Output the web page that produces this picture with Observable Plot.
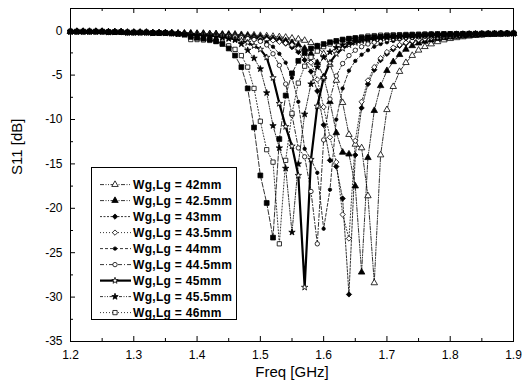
<!DOCTYPE html>
<html><head><meta charset="utf-8">
<script src="https://cdn.jsdelivr.net/npm/d3@7"></script>
<script src="https://cdn.jsdelivr.net/npm/@observablehq/plot@0.6"></script>
<style>
body{margin:0;background:#fff;}
#wrap{position:relative;width:526px;height:389px;font-family:"Liberation Sans",Arial,sans-serif;}
#legend{position:absolute;left:91px;top:167px;width:146px;height:153px;border:1px solid #000;background:#fff;box-sizing:border-box;}
</style></head><body><div id="wrap"></div>
<script>
// ---------- data ----------
const freq = [1.20,1.21,1.22,1.23,1.24,1.25,1.26,1.27,1.28,1.29,1.30,1.31,1.32,1.33,1.34,1.35,
  1.36,1.37,1.38,1.39,1.40,1.41,1.42,1.43,1.44,1.45,1.46,1.47,1.48,1.49,
  1.50,1.51,1.52,1.53,1.54,1.55,1.56,1.57,1.58,1.59,
  1.60,1.61,1.62,1.63,1.64,1.65,1.66,1.67,1.68,1.69,
  1.70,1.71,1.72,1.73,1.74,1.75,1.76,1.77,1.78,1.79,
  1.80,1.81,1.82,1.83,1.84,1.85,1.86,1.87,1.88,1.89,1.90];

const seriesNames = ["Wg,Lg = 42mm","Wg,Lg = 42.5mm","Wg,Lg = 43mm","Wg,Lg = 43.5mm","Wg,Lg = 44mm",
  "Wg,Lg = 44.5mm","Wg,Lg = 45mm","Wg,Lg = 45.5mm","Wg,Lg = 46mm","Wg,Lg = 46.5mm"];

const s42 = [-0.1,-0.1,-0.1,-0.1,-0.1,-0.1,-0.15,-0.15,-0.15,-0.2,-0.2,-0.2,-0.2,-0.25,-0.25,-0.25,
  -0.25,-0.3,-0.3,-0.3,-0.3,-0.3,-0.35,-0.35,-0.4,-0.4,-0.4,-0.45,-0.5,-0.5,
  -0.55,-0.6,-0.65,-0.7,-0.75,-0.85,-0.95,-1.1,-1.35,-1.8,
  -2.6,-3.8,-5.6,-8.1,-11.7,-12.8,-13.2,-18.6,-28.4,-14.0,
  -8.9,-6.3,-4.6,-3.6,-2.8,-2.2,-1.8,-1.5,-1.25,-1.05,
  -0.9,-0.8,-0.7,-0.62,-0.55,-0.5,-0.45,-0.4,-0.38,-0.35,-0.32];
const s42_5 = [-0.1,-0.1,-0.1,-0.1,-0.1,-0.1,-0.15,-0.15,-0.15,-0.2,-0.2,-0.2,-0.2,-0.25,-0.25,-0.25,
  -0.25,-0.3,-0.3,-0.3,-0.35,-0.35,-0.4,-0.4,-0.45,-0.45,-0.5,-0.55,-0.6,-0.65,
  -0.7,-0.8,-0.9,-1.0,-1.15,-1.35,-1.6,-2.0,-2.6,-3.6,
  -5.2,-8.0,-11.5,-13.7,-13.9,-17.5,-27.2,-14.3,-9.0,-6.2,
  -4.5,-3.5,-2.7,-2.1,-1.7,-1.4,-1.2,-1.05,-0.9,-0.8,
  -0.72,-0.65,-0.6,-0.55,-0.5,-0.46,-0.42,-0.4,-0.37,-0.35,-0.32];
const s43 = [-0.1,-0.1,-0.1,-0.1,-0.1,-0.1,-0.15,-0.15,-0.15,-0.2,-0.2,-0.2,-0.2,-0.25,-0.25,-0.25,
  -0.3,-0.3,-0.3,-0.35,-0.35,-0.4,-0.4,-0.45,-0.5,-0.5,-0.55,-0.6,-0.65,-0.7,
  -0.8,-0.9,-1.0,-1.15,-1.45,-1.85,-2.4,-3.3,-4.6,-6.8,
  -10.6,-14.6,-15.3,-18.9,-29.7,-14.0,-8.7,-6.0,-4.4,-3.3,
  -2.6,-2.1,-1.7,-1.45,-1.25,-1.1,-0.95,-0.85,-0.75,-0.7,
  -0.65,-0.6,-0.55,-0.5,-0.47,-0.44,-0.41,-0.38,-0.36,-0.34,-0.32];
const s43_5 = [-0.1,-0.1,-0.1,-0.1,-0.1,-0.1,-0.15,-0.15,-0.15,-0.2,-0.2,-0.2,-0.2,-0.25,-0.25,-0.25,
  -0.3,-0.3,-0.3,-0.35,-0.35,-0.4,-0.4,-0.45,-0.5,-0.55,-0.6,-0.65,-0.7,-0.8,
  -0.9,-1.0,-1.1,-1.25,-1.4,-1.6,-2.0,-2.6,-3.6,-5.5,
  -8.6,-12.0,-14.8,-20.7,-23.4,-12.4,-8.0,-5.6,-4.1,-3.1,
  -2.4,-1.9,-1.6,-1.35,-1.15,-1.0,-0.9,-0.8,-0.72,-0.66,
  -0.6,-0.56,-0.52,-0.48,-0.45,-0.42,-0.4,-0.38,-0.36,-0.34,-0.32];
const s44 = [-0.1,-0.1,-0.1,-0.1,-0.1,-0.1,-0.15,-0.15,-0.15,-0.2,-0.2,-0.2,-0.2,-0.25,-0.25,-0.25,
  -0.3,-0.3,-0.35,-0.35,-0.4,-0.4,-0.45,-0.5,-0.55,-0.6,-0.65,-0.7,-0.75,-0.85,
  -1.0,-1.3,-1.8,-2.6,-3.6,-5.3,-8.0,-13.3,-14.5,-16.0,
  -22.3,-17.9,-10.0,-6.5,-4.5,-3.4,-2.7,-2.2,-1.8,-1.5,
  -1.3,-1.15,-1.0,-0.9,-0.82,-0.75,-0.7,-0.65,-0.6,-0.56,
  -0.52,-0.5,-0.47,-0.45,-0.43,-0.41,-0.39,-0.37,-0.35,-0.33,-0.32];
const s44_5 = [-0.1,-0.1,-0.1,-0.1,-0.1,-0.1,-0.15,-0.15,-0.15,-0.2,-0.2,-0.2,-0.2,-0.25,-0.25,-0.25,
  -0.3,-0.3,-0.35,-0.4,-0.4,-0.45,-0.5,-0.55,-0.6,-0.65,-0.7,-0.8,-0.9,-1.0,
  -1.2,-1.6,-2.6,-3.9,-6.0,-9.5,-13.2,-14.2,-18.1,-24.0,
  -12.3,-7.7,-5.1,-3.7,-2.8,-2.2,-1.8,-1.5,-1.3,-1.15,
  -1.0,-0.92,-0.85,-0.78,-0.72,-0.67,-0.62,-0.58,-0.55,-0.52,
  -0.5,-0.47,-0.45,-0.43,-0.41,-0.39,-0.37,-0.35,-0.34,-0.33,-0.32];
const s45 = [-0.1,-0.1,-0.1,-0.1,-0.1,-0.1,-0.15,-0.15,-0.15,-0.2,-0.2,-0.2,-0.2,-0.25,-0.25,-0.25,
  -0.3,-0.35,-0.35,-0.4,-0.45,-0.5,-0.55,-0.6,-0.7,-0.8,-0.95,-1.1,-1.35,-1.7,
  -2.1,-3.0,-5.3,-8.2,-10.8,-13.0,-16.3,-28.9,-14.5,-8.5,
  -5.3,-3.6,-2.6,-2.0,-1.6,-1.35,-1.15,-1.0,-0.9,-0.8,
  -0.75,-0.7,-0.65,-0.6,-0.57,-0.54,-0.51,-0.48,-0.46,-0.44,
  -0.42,-0.4,-0.39,-0.38,-0.37,-0.36,-0.35,-0.34,-0.33,-0.32,-0.31];
const s45_5 = [-0.1,-0.1,-0.1,-0.1,-0.1,-0.1,-0.15,-0.15,-0.15,-0.2,-0.2,-0.2,-0.2,-0.25,-0.25,-0.25,
  -0.3,-0.35,-0.4,-0.45,-0.5,-0.55,-0.6,-0.7,-0.8,-0.9,-1.05,-1.5,-2.2,-3.1,
  -4.3,-7.0,-10.7,-13.2,-15.5,-22.7,-15.0,-9.4,-6.0,-4.1,
  -3.0,-2.4,-1.9,-1.6,-1.4,-1.2,-1.05,-0.95,-0.85,-0.8,
  -0.75,-0.7,-0.65,-0.6,-0.57,-0.54,-0.51,-0.48,-0.46,-0.44,
  -0.42,-0.4,-0.39,-0.38,-0.37,-0.36,-0.35,-0.34,-0.33,-0.32,-0.31];
const s46 = [-0.1,-0.1,-0.1,-0.1,-0.1,-0.1,-0.15,-0.15,-0.15,-0.2,-0.2,-0.2,-0.2,-0.25,-0.25,-0.25,
  -0.3,-0.35,-0.4,-1.0,-1.0,-1.05,-1.1,-1.2,-1.4,-1.7,-2.1,-2.8,-4.1,-6.5,
  -10.2,-13.4,-14.8,-24.0,-14.6,-9.3,-5.9,-4.0,-3.0,-2.3,
  -1.8,-1.5,-1.25,-1.05,-0.9,-0.8,-0.7,-0.6,-0.55,-0.5,
  -0.48,-0.46,-0.44,-0.42,-0.4,-0.39,-0.38,-0.37,-0.36,-0.35,
  -0.35,-0.34,-0.34,-0.33,-0.33,-0.32,-0.32,-0.31,-0.31,-0.3,-0.3];
const s46_5 = [-0.1,-0.1,-0.1,-0.1,-0.1,-0.1,-0.15,-0.15,-0.15,-0.2,-0.2,-0.2,-0.2,-0.25,-0.25,-0.25,
  -0.3,-0.35,-0.45,-0.7,-0.8,-0.9,-1.0,-1.2,-1.5,-2.0,-2.8,-4.1,-6.5,-10.9,
  -16.3,-19.4,-23.3,-12.2,-7.3,-4.8,-3.4,-2.5,-2.0,-1.7,
  -1.5,-1.3,-1.15,-1.0,-0.9,-0.85,-0.8,-0.75,-0.7,-0.65,
  -0.6,-0.57,-0.54,-0.51,-0.48,-0.46,-0.44,-0.42,-0.4,-0.39,
  -0.38,-0.37,-0.36,-0.35,-0.34,-0.33,-0.32,-0.31,-0.3,-0.3,-0.3];

const xTickLabels = [1.2,1.3,1.4,1.5,1.6,1.7,1.8,1.9];
const xMinorTicks = [1.25,1.35,1.45,1.55,1.65,1.75,1.85];
const yTickLabels = [0,-5,-10,-15,-20,-25,-30,-35];
const yMinorTicks = [2.5,-2.5,-7.5,-12.5,-17.5,-22.5,-27.5,-32.5];
const legendCount = 9;

// ---------- styles ----------
const seriesValues = [s42,s42_5,s43,s43_5,s44,s44_5,s45,s45_5,s46,s46_5];
const styles = [
  {symbol:"triangle", fill:"white", r:2.4, dash:"4,1.5,1,1.5,1,1.5", sw:0.8},
  {symbol:"triangle", fill:"black", r:2.4, dash:"4,1.5,1,1.5,1,1.5", sw:0.8},
  {symbol:"diamond2", fill:"black", r:2.4, dash:"2,1.5", sw:0.8},
  {symbol:"diamond2", fill:"white", r:2.4, dash:"1,2", sw:0.8},
  {symbol:"circle",   fill:"black", r:1.7, dash:"3,2", sw:0.8},
  {symbol:"circle",   fill:"white", r:2.2, dash:"4,2,1,2", sw:0.8},
  {symbol:"star",     fill:"white", r:2.0, dash:null, sw:2.2},
  {symbol:"star",     fill:"black", r:2.0, dash:"3,1.5,1,1.5,1,1.5", sw:0.8},
  {symbol:"square",   fill:"white", r:2.4, dash:"1,2", sw:0.8},
  {symbol:"square",   fill:"black", r:2.7, dash:"5,2", sw:0.8}
];

const W = 526, H = 389, mL = 70, mR = 13, mT = 8, mB = 48;
const pw = W - mL - mR, ph = H - mT - mB;

const rows = seriesValues.map((vals, k) => vals.map((v, i) => ({f: freq[i], v, s: seriesNames[k]})));

const marks = [];
rows.forEach((r, k) => {
  const st = styles[k];
  marks.push(Plot.line(r, {x: "f", y: "v", stroke: "black", strokeWidth: st.sw, strokeDasharray: st.dash || undefined}));
});
rows.forEach((r, k) => {
  const st = styles[k];
  marks.push(Plot.dot(r, {x: "f", y: "v", symbol: st.symbol, r: st.r, fill: st.fill, stroke: "black", strokeWidth: 0.8}));
});
marks.push(
  Plot.tickX(xTickLabels, {x: d => d, insetTop: ph - 5, stroke: "black"}),
  Plot.tickX(xMinorTicks, {x: d => d, insetTop: ph - 3, stroke: "black"}),
  Plot.tickX(xTickLabels, {x: d => d, insetBottom: ph - 5, stroke: "black"}),
  Plot.tickX(xMinorTicks, {x: d => d, insetBottom: ph - 3, stroke: "black"}),
  Plot.tickY(yTickLabels, {y: d => d, insetRight: pw - 5, stroke: "black"}),
  Plot.tickY(yMinorTicks, {y: d => d, insetRight: pw - 3, stroke: "black"}),
  Plot.frame({stroke: "black", strokeWidth: 1}),
  Plot.axisX(xTickLabels, {tickSize: 0, tickPadding: 9, tickFormat: d => d.toFixed(1), fontSize: 12, label: null}),
  Plot.axisY(yTickLabels, {tickSize: 0, tickPadding: 8, tickFormat: d => String(d), fontSize: 12, label: null}),
  Plot.text(["Freq [GHz]"], {frameAnchor: "bottom", dy: 35, fontSize: 15, fill: "black"}),
  Plot.text(["S11 [dB]"], {frameAnchor: "left", dx: -53, rotate: -90, fontSize: 15, fill: "black"})
);

const chart = Plot.plot({
  width: W, height: H,
  marginLeft: mL, marginRight: mR, marginTop: mT, marginBottom: mB,
  x: {domain: [1.2, 1.9]},
  y: {domain: [-35, 2.5]},
  style: {fontFamily: '"Liberation Sans", Arial, sans-serif', background: "white", color: "black", overflow: "visible"},
  marks
});
const wrap = document.getElementById("wrap");
wrap.appendChild(chart);

// ---------- legend ----------
const symMap = {triangle: d3.symbolTriangle, diamond2: d3.symbolDiamond2, circle: d3.symbolCircle, star: d3.symbolStar, square: d3.symbolSquare};
const leg = d3.select(wrap).append("svg")
  .attr("width", 146).attr("height", 153)
  .style("position", "absolute").style("left", "91px").style("top", "167px");
leg.append("rect").attr("x", 0.5).attr("y", 0.5).attr("width", 145).attr("height", 152)
  .attr("fill", "white").attr("stroke", "black");
for (let k = 0; k < legendCount; k++) {
  const st = styles[k];
  const cy = 17.6 + k * 16;
  leg.append("line").attr("x1", 9).attr("x2", 40).attr("y1", cy).attr("y2", cy)
    .attr("stroke", "black").attr("stroke-width", st.sw).attr("stroke-dasharray", st.dash);
  const size = st.symbol === "circle" ? Math.PI * st.r * st.r : Math.PI * st.r * st.r;
  leg.append("path").attr("transform", `translate(24,${cy})`)
    .attr("d", d3.symbol(symMap[st.symbol], size)())
    .attr("fill", st.fill).attr("stroke", "black").attr("stroke-width", 0.8);
  leg.append("text").attr("x", 42).attr("y", cy).attr("dy", "0.35em")
    .attr("font-family", '"Liberation Sans", Arial, sans-serif').attr("font-weight", "bold")
    .attr("font-size", 12).attr("fill", "black").attr("letter-spacing", "0.3px")
    .text(seriesNames[k]);
}
</script></body></html>
